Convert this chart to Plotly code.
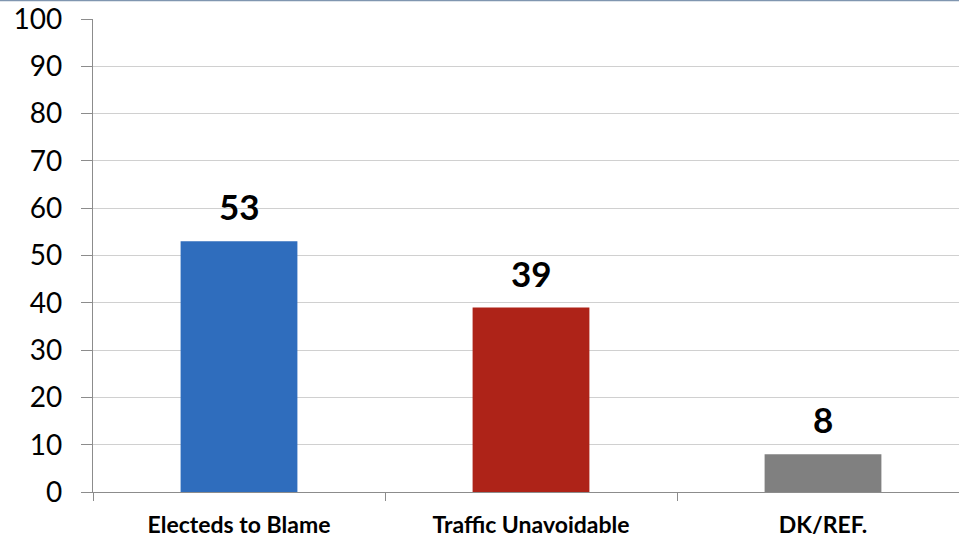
import plotly.graph_objects as go

# Survey responses (percent)
categories = ["Electeds to Blame", "Traffic Unavoidable", "DK/REF."]
values = [53, 39, 8]
bar_colors = ["#2f6dbd", "#ae2318", "#808080"]
y_ticks = [0, 10, 20, 30, 40, 50, 60, 70, 80, 90, 100]

W, H = 959, 540
M_L, M_R, M_T, M_B = 93, 0, 19, 48

fig = go.Figure()
fig.add_trace(go.Bar(
    x=categories,
    y=values,
    marker=dict(color=bar_colors, line=dict(width=0)),
    width=0.4,
    hoverinfo="x+y",
))

# Value labels above each bar
for cat, val in zip(categories, values):
    fig.add_annotation(
        x=cat, y=val, text=f"<b>{val}</b>", showarrow=False,
        yanchor="bottom", yshift=12,
        font=dict(family="Lato", size=35, color="#000000"),
    )

# Thin rule along the top edge of the page
plot_w = W - M_L - M_R
plot_h = H - M_T - M_B
fig.add_shape(
    type="line", xref="paper", yref="paper",
    x0=-M_L / plot_w, x1=1.0,
    y0=1 + (M_T - 0.5) / plot_h, y1=1 + (M_T - 0.5) / plot_h,
    line=dict(color="#8096b0", width=1.5),
)

fig.update_layout(
    width=W, height=H,
    margin=dict(l=M_L, r=M_R, t=M_T, b=M_B, pad=0),
    paper_bgcolor="white", plot_bgcolor="white",
    showlegend=False,
    bargap=0.6,
    font=dict(family="Lato", color="#000000"),
)

fig.update_xaxes(
    type="category",
    range=[-0.5, -0.5 + plot_w / 292.0],
    showline=True, linecolor="#8c8c8c", linewidth=1.3,
    ticks="outside", tickson="boundaries", ticklen=8, tickcolor="#8c8c8c",
    tickfont=dict(family="Lato", size=23, color="#000000", weight="bold"),
    ticklabelstandoff=12,
    showgrid=False,
    fixedrange=True,
)

fig.update_yaxes(
    range=[0, 100],
    tickvals=y_ticks,
    showline=True, linecolor="#8c8c8c", linewidth=1.3,
    ticks="outside", ticklen=11, tickcolor="#8c8c8c",
    tickfont=dict(family="Lato", size=28, color="#000000"),
    ticklabelstandoff=13,
    showgrid=True, gridcolor="#d0d0d0", gridwidth=1.3,
    zeroline=False,
    fixedrange=True,
)

fig.write_html("out.html")
